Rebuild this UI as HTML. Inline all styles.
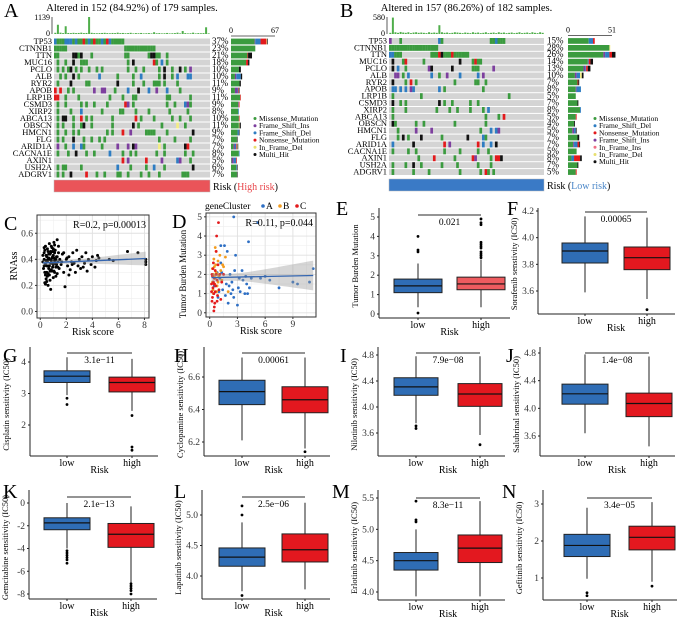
<!DOCTYPE html>
<html><head><meta charset="utf-8"><style>
html,body{margin:0;padding:0;background:#fff;}
svg{display:block;font-family:"Liberation Serif",serif;}
</style></head><body>
<svg id="fig" width="678" height="619" viewBox="0 0 678 619" xmlns="http://www.w3.org/2000/svg"></svg>
<script>
// ===== Oncoprint data =====
const genes=["TP53","CTNNB1","TTN","MUC16","PCLO","ALB","RYR2","APOB","LRP1B","CSMD3","XIRP2","ABCA13","OBSCN","HMCN1","FLG","ARID1A","CACNA1E","AXIN1","USH2A","ADGRV1"];
const pctA=["37%","23%","21%","18%","10%","10%","11%","9%","11%","9%","8%","10%","11%","9%","7%","7%","8%","5%","6%","7%"];
const pctB=["15%","28%","26%","14%","13%","10%","7%","8%","5%","7%","8%","5%","4%","5%","7%","7%","5%","8%","7%","5%"];
const rowsA=[
"dmmmdddmdmmnmdmnmmdmndmmmmm",
"mmmmm......................mmmmmmmmmmmm",
"mm.....kkmk...m............mm.......mkkmm..m",
".m..m..k..mmm...............m.k.......nm.d.m",
".m.m.mk.m.m..m..m.m.........m..m..m.....m.k..m..k.m.s",
"..m.m..k.m.......d......m.....m..d......m.k..m.d...dd",
".m....k.....mm..........k.....m...m...mmm.m....m",
"n.n..m.m.......s..ss...m....d...k...d..s...d....m",
"nn..m....m...........m....m...mm...........mm.......m",
".m..m.....m.m..m....m......ns.m............m..m...dsm",
".m....m...d.......m......mm....m....m.......m......m",
".m.kk..m..n.m.m.......m........n.m....m......m..m...m",
".m.m...m..mk..m.......m.......k.m........m.....i..m..",
".m..m..m.m..........m.m...n..s.....mmmm....m.........k",
".m.m...k...m..m..m.m....................m.....m.....m",
".s..m..d..dm......m.....s...s.ks........i.m.......kn",
".m...m..k...m..m.....d....m..m.m.......m..m.......m..m",
"..........................n.s......n.....s.....ds...m",
".m.mm.....m.............d....m.....m..d...m..........k",
".m.m..k.....n...m..m....mm..m....m..m...m........mmm"];
const rowsB=[
"s...m..............dm..................mmdmmm",
"mmmmmmmmmmmmmmmmmmm",
"ddmmm...........mmmnkmmmnmmmmmm",
".k...mn......m.............k....mnmm",
".k.d..m........sk.......k.......mmm.....s",
"..ss.m.d........d..m..s....d......d.s",
".k....m.n.m..............m.......mm..m",
".dd.d.d.sd.........d.m..............m",
".m..........m.................................m",
".k..m.m............k.m..m......m..m",
".m....m...........m....m..m....m....m.d",
".m...................................m....m.n",
".km.......m..m...........m...........m",
"...m......s.....s..................m...d.ds",
"...m.k.m....k.......m.........k.....dm",
".d.......k...........n.s..........n.d..d.k",
".m.....m..m..........m.....m......m...m",
"...........m.....n.......m......ns.....m.nnk",
".m....m..k..m.......m.....m.......m....m",
".m.......m.....m...........m.......m.nm.m"];
const topA=[80,620,90,60,520,70,60,80,60,70,90,60,70,1139,80,60,50,60,70,80,60,50,70,60,90,60,70,50,60,80,40,60,50,70,40,50,60,40,120,50,60,40,50,70,40,50,60,90,40,200,60,40,50,90,40,60,50,60,450,40];
const topB=[40,560,60,40,70,50,40,60,30,50,60,40,50,40,30,60,40,50,40,300,60,40,50,30,40,60,50,40,30,50,40,30,60,40,50,30,40,60,30,40,50,30,60,40,50,30,40,50,30,40,60,30,40,50,30,60,40,30,60,40];
const typeColors={m:"#3b9b3f",s:"#7d3f9e",d:"#2e7dc2",n:"#e31a1c",i:"#f3ec86",k:"#111111",p:"#f06e86"};
const barsA=[[36,1,8,9,1,1],[37,0,0,0,0,0],[25,0,0,1,0,6],[23,0,0,3,0,2],[12,0,0,0,0,3],[6,2,7,0,0,2],[13,0,0,0,0,2],[6,4,1,1,0,1],[14,0,0,1,0,0],[11,1,0,1,0,0],[11,0,1,0,0,0],[12,0,0,1,0,0],[12,0,0,0,1,2],[10,0,2,0,0,1],[9,0,0,0,0,1],[4,2,2,1,1,1],[12,0,1,0,0,0],[1,3,4,1,0,0],[8,0,1,0,0,1],[9,0,0,0,0,1]];
const barsB=[[24,0,5,2,0,0,0],[48,0,0,0,0,1,0],[41,2,5,3,0,0,4],[23,0,1,2,0,0,3],[18,2,1,2,0,0,3],[8,2,4,0,0,2,2],[11,0,0,1,0,0,1],[9,1,5,0,0,0,0],[9,0,0,0,0,0,0],[11,0,0,0,0,0,1],[14,0,1,0,0,0,0],[9,0,0,1,0,0,0],[7,0,0,0,0,0,1],[5,2,2,0,0,0,1],[11,0,0,0,0,0,2],[6,1,4,2,0,0,1],[10,0,0,0,0,0,0],[4,0,3,7,0,0,2],[11,0,0,0,0,0,1],[9,0,0,1,0,0,0]];
// ===== Scatter C data =====
const cRisk=[0.2,0.3,0.35,0.4,0.45,0.5,0.5,0.55,0.6,0.6,0.65,0.7,0.7,0.75,0.8,0.8,0.85,0.9,0.9,0.95,1.0,1.0,1.05,1.1,1.1,1.15,1.2,1.25,1.3,1.3,1.35,1.4,1.45,1.5,0.25,0.3,0.35,0.4,0.45,0.5,0.55,0.6,0.65,0.7,0.75,0.8,0.85,0.9,0.95,1.0,1.05,1.1,1.2,1.25,1.4,0.2,0.3,0.4,0.6,0.7,0.9,1.0,1.15,1.3,0.35,0.55,0.45,0.65,0.85,1.05,1.2,0.3,0.5,0.75,0.95,1.35,0.4,0.6,0.8,1.1,1.6,1.7,1.8,1.9,2.0,2.1,2.2,2.3,2.4,2.5,2.6,2.7,2.8,3.0,3.1,3.2,3.4,3.5,3.7,3.9,4.0,4.2,4.3,4.5,5.3,5.6,6.7,7.5,8.1,8.1,8.1,1.8,2.2,2.9,3.6,1.65,2.05,2.45,3.3,4.4];
const cRNAss=[0.38,0.45,0.3,0.5,0.25,0.42,0.35,0.48,0.2,0.4,0.33,0.52,0.28,0.44,0.37,0.17,0.5,0.31,0.41,0.46,0.36,0.26,0.53,0.39,0.3,0.47,0.34,0.42,0.55,0.29,0.38,0.45,0.33,0.4,0.33,0.4,0.47,0.36,0.43,0.3,0.38,0.46,0.41,0.35,0.24,0.45,0.39,0.49,0.34,0.43,0.31,0.45,0.4,0.36,0.5,0.43,0.35,0.28,0.35,0.4,0.37,0.48,0.37,0.42,0.22,0.27,0.39,0.44,0.32,0.41,0.27,0.49,0.23,0.31,0.42,0.34,0.21,0.29,0.46,0.51,0.36,0.44,0.3,0.19,0.4,0.35,0.42,0.32,0.38,0.45,0.37,0.3,0.47,0.4,0.33,0.42,0.37,0.45,0.4,0.36,0.42,0.34,0.39,0.41,0.4,0.39,0.46,0.45,0.4,0.38,0.36,0.45,0.28,0.35,0.31,0.38,0.41,0.36,0.34,0.43];
// ===== Scatter D data =====
const dRisk=[1.2,1.6,1.9,2.2,2.5,2.8,3.0,3.2,3.5,3.8,4.0,4.2,4.3,4.5,5.2,2.6,5.5,6.0,6.5,7.5,9.0,9.5,10.8,11.2,1.0,1.8,2.0,2.4,2.7,3.3,1.3,1.7,2.1,3.6,4.1,0.5,0.8,1.1,1.4,2.3,2.6,3.1,3.9,0.9,1.2,
0.3,0.4,0.5,0.6,0.7,0.8,0.9,1.0,1.1,1.2,0.35,0.45,0.55,0.65,0.75,0.85,1.3,1.5,1.7,2.0,0.4,0.6,0.9,1.4,0.3,0.5,0.7,
0.2,0.25,0.3,0.35,0.4,0.45,0.5,0.55,0.6,0.65,0.7,0.75,0.8,0.85,0.9,0.95,1.0,1.1,1.2,0.3,0.4,0.5,0.6,0.7,0.8,0.2,0.35,0.5,0.45,1.3,1.5,0.25];
const dTMB=[3.5,3.5,3.2,2.0,1.2,3.0,0.4,1.8,2.2,1.0,1.5,3.7,1.3,1.8,4.7,5.0,1.8,1.9,1.7,1.3,1.6,1.5,1.6,2.3,1.1,1.5,0.5,1.6,2.2,1.1,2.1,0.9,1.4,1.7,1.0,1.4,2.1,1.8,1.2,1.0,0.8,1.3,1.9,0.8,2.6,
1.6,2.0,2.4,1.8,3.2,1.4,2.7,1.9,3.0,2.2,1.2,2.8,1.5,2.5,1.1,2.0,1.7,2.4,2.9,1.1,1.0,3.4,1.6,2.5,2.3,1.9,2.1,
1.5,2.0,0.8,1.3,2.6,1.0,1.8,0.5,2.2,1.4,3.2,4.0,1.7,0.9,2.5,4.7,1.2,2.0,0.7,1.9,1.6,0.3,1.1,2.0,0.6,1.1,2.3,1.5,0.1,1.6,2.0,0.6];
const dCluster=("A".repeat(45)+"B".repeat(27)+"C".repeat(32)).split("");
// ===== Boxplot data: [lowerWhisker, q1, median, q3, upperWhisker] =====
const E_low=[0.35,1.1,1.45,1.8,2.6], E_high=[0.35,1.25,1.55,1.9,2.8];
const E_lowOut=[0.05,3.2,3.3,4.0], E_highOut=[2.9,3.0,3.1,3.2,3.4,3.5,3.6,3.7,4.6,4.7,4.9];
const F_low=[3.59,3.81,3.90,3.96,4.16], F_high=[3.54,3.76,3.85,3.93,4.15];
const F_lowOut=[], F_highOut=[3.46];
const G_low=[2.95,3.35,3.55,3.72,4.15], G_high=[2.45,3.05,3.35,3.52,4.1];
const G_lowOut=[2.85,2.65], G_highOut=[2.3,1.3,1.2];
const H_low=[6.21,6.43,6.51,6.58,6.72], H_high=[6.16,6.38,6.46,6.54,6.72];
const H_lowOut=[], H_highOut=[6.14];
const I_low=[3.75,4.18,4.31,4.45,4.78], I_high=[3.57,4.01,4.2,4.36,4.78];
const I_lowOut=[3.67,3.71], I_highOut=[3.42];
const J_low=[3.64,4.06,4.21,4.35,4.78], J_high=[3.45,3.88,4.07,4.22,4.75];
const J_lowOut=[], J_highOut=[];
const K_low=[-4.0,-2.35,-1.75,-1.3,0.0], K_high=[-7.0,-3.9,-2.75,-1.8,-0.3];
const K_lowOut=[-4.2,-4.4,-4.6,-4.8,-5.0,-5.3], K_highOut=[-7.1,-7.3,-7.5,-7.7,-8.0];
const L_low=[3.75,4.16,4.31,4.46,4.88], L_high=[3.78,4.23,4.43,4.69,5.2];
const L_lowOut=[5.0,5.15,3.68], L_highOut=[];
const M_low=[3.93,4.35,4.5,4.63,5.0], M_high=[3.93,4.47,4.7,4.91,5.45];
const M_lowOut=[5.12,5.15,5.45], M_highOut=[];
const N_low=[0.98,1.58,1.88,2.18,2.9], N_high=[0.9,1.76,2.1,2.4,3.05];
const N_lowOut=[0.6,0.52], N_highOut=[0.78];

const NS="http://www.w3.org/2000/svg";
const svg=document.getElementById("fig");
function el(tag,attrs,parent,txt){const e=document.createElementNS(NS,tag);for(const k in attrs)e.setAttribute(k,attrs[k]);if(txt!==undefined)e.textContent=txt;(parent||svg).appendChild(e);return e;}
function grp(name){const g=el("g",{});


return g;}
function letter(t,x,y){const e=el("text",{x:x,y:y,"font-size":20},svg,t);

}

// ===== Oncoprint =====
function onco(o){
  const g=grp(o.name);
  const t=el("text",{x:(o.gx0+o.gx1)/2,y:11,"font-size":10.5,"text-anchor":"middle"},g,o.title);
  
  
  const cols=60,cw=(o.gx1-o.gx0)/cols;
  el("line",{x1:o.gx0-2,x2:o.gx0-2,y1:o.ty0,y2:o.ty1,stroke:"#333","stroke-width":0.8},g);
  el("text",{x:o.gx0-4,y:o.ty0+3,"font-size":8,"text-anchor":"end"},g,o.topMax);
  el("text",{x:o.gx0-4,y:o.ty1+2,"font-size":8,"text-anchor":"end"},g,"0");
  o.top.forEach((v,i)=>{const h=v/o.topMaxV*(o.ty1-o.ty0);
    const b=el("rect",{x:o.gx0+i*cw+0.3,y:o.ty1-h,width:cw-0.6,height:h,fill:"#4fae4a"},g);
    
    });
  genes.forEach((gn,r)=>{
    const y=o.gy0+r*o.rh;
    el("text",{x:o.gx0-2,y:y+o.rh-1,"font-size":8.5,"text-anchor":"end"},g,gn);
    el("rect",{x:o.gx0,y:y+0.5,width:o.gx1-o.gx0,height:o.rh-1,fill:"#d4d4d4"},g);
    const row=o.rows[r].padEnd(cols,".");
    for(let c=0;c<cols;c++){const ch=row[c];if(ch==="."||!typeColors[ch])continue;
      const cell=el("rect",{x:o.gx0+c*cw,y:y+0.5,width:cw+0.1,height:o.rh-1,fill:typeColors[ch]},g);
      
      }
    el("text",{x:o.px,y:y+o.rh-1,"font-size":9},g,o.pct[r]);
    let x=o.bx0;o.bars[r].forEach((n,k)=>{if(!n)return;const w=n/o.bmax*(o.bx1-o.bx0);
      const s=el("rect",{x:x,y:y+0.6,width:w,height:o.rh-1.2,fill:o.barColors[k]},g);
      
      x+=w;});
  });
  el("line",{x1:o.bx0,x2:o.bx1,y1:o.gy0-2,y2:o.gy0-2,stroke:"#333","stroke-width":0.8},g);
  el("text",{x:o.bx0,y:o.gy0-5,"font-size":8,"text-anchor":"middle"},g,"0");
  el("text",{x:o.bx1,y:o.gy0-5,"font-size":8,"text-anchor":"middle"},g,o.bmaxLabel);
  const rb=el("rect",{x:o.gx0,y:o.ry,width:o.gx1-o.gx0,height:12,fill:o.riskColor,stroke:"#bbb","stroke-width":0.5},g);
  
  
  const rt=el("text",{x:o.gx1+3,y:o.ry+10,"font-size":10},g);
  el("tspan",{},rt,"Risk (");el("tspan",{fill:o.riskText},rt,o.riskLabel);el("tspan",{},rt,")");
  o.legend.forEach((l,i)=>{const lg=el("g",{},g);
    
    
    el("circle",{cx:o.lx,cy:o.ly+i*7.2-2.5,r:1.5,fill:l[1]},lg);
    el("text",{x:o.lx+4,y:o.ly+i*7.2,"font-size":7.5},lg,l[0]);});
}
onco({name:"oncoprint-high-risk",title:"Altered in 152 (84.92%) of 179 samples.",gx0:54,gx1:210,gy0:38,rh:7,ty0:17,ty1:34,top:topA,topMax:"1139",topMaxV:1139,rows:rowsA,pct:pctA,px:212,bars:barsA,bx0:231,bx1:275,bmax:67,bmaxLabel:"67",
 barColors:["#3b9b3f","#7d3f9e","#2e7dc2","#e31a1c","#f3ec86","#111"],ry:180,riskColor:"#ea5459",riskText:"#e8474c",riskLabel:"High risk",
 lx:255,ly:121,legend:[["Missense_Mutation","#3b9b3f"],["Frame_Shift_Ins","#7d3f9e"],["Frame_Shift_Del","#2e7dc2"],["Nonsense_Mutation","#e31a1c"],["In_Frame_Del","#e8e070"],["Multi_Hit","#111"]]});
onco({name:"oncoprint-low-risk",title:"Altered in 157 (86.26%) of 182 samples.",gx0:389,gx1:544,gy0:37.5,rh:6.9,ty0:17,ty1:34,top:topB,topMax:"580",topMaxV:580,rows:rowsB,pct:pctB,px:547,bars:barsB,bx0:568,bx1:612,bmax:51,bmaxLabel:"51",
 barColors:["#3b9b3f","#7d3f9e","#2e7dc2","#e31a1c","#f06e86","#f3ec86","#111"],ry:179,riskColor:"#3a7ac6",riskText:"#4a86c8",riskLabel:"Low risk",
 lx:595,ly:121,legend:[["Missense_Mutation","#3b9b3f"],["Frame_Shift_Del","#2e7dc2"],["Nonsense_Mutation","#e31a1c"],["Frame_Shift_Ins","#7d3f9e"],["In_Frame_Ins","#f06e86"],["In_Frame_Del","#e8e070"],["Multi_Hit","#111"]]});
letter("A",4,17);letter("B",340,17);

// ===== Scatter plots =====
function scatter(o){
  const g=grp(o.name);
  const X=v=>o.x0+(v-o.xd0)/(o.xd1-o.xd0)*(o.x1-o.x0);
  const Y=v=>o.y1-(v-o.yd0)/(o.yd1-o.yd0)*(o.y1-o.y0);
  el("rect",{x:o.x0,y:o.y0,width:o.x1-o.x0,height:o.y1-o.y0,fill:"#fff"},g);
  o.xminor.forEach(v=>el("line",{x1:X(v),x2:X(v),y1:o.y0,y2:o.y1,stroke:"#eee","stroke-width":0.6},g));
  o.yminor.forEach(v=>el("line",{x1:o.x0,x2:o.x1,y1:Y(v),y2:Y(v),stroke:"#eee","stroke-width":0.6},g));
  o.xticks.forEach(v=>{el("line",{x1:X(v),x2:X(v),y1:o.y0,y2:o.y1,stroke:"#e0e0e0","stroke-width":0.9},g);
    el("line",{x1:X(v),x2:X(v),y1:o.y1,y2:o.y1+2,stroke:"#333"},g);
    el("text",{x:X(v),y:o.y1+10,"font-size":9.5,"text-anchor":"middle",fill:"#333"},g,String(v));});
  o.yticks.forEach(v=>{el("line",{x1:o.x0,x2:o.x1,y1:Y(v),y2:Y(v),stroke:"#e0e0e0","stroke-width":0.9},g);
    el("line",{x1:o.x0-2,x2:o.x0,y1:Y(v),y2:Y(v),stroke:"#333"},g);
    el("text",{x:o.x0-4,y:Y(v)+3,"font-size":9.5,"text-anchor":"end",fill:"#333"},g,o.yfmt(v));});
  const n=o.xs.length;let mx=0,my=0;for(let i=0;i<n;i++){mx+=o.xs[i];my+=o.ys[i];}mx/=n;my/=n;
  let sxx=0,sxy=0,sse=0;for(let i=0;i<n;i++){sxx+=(o.xs[i]-mx)**2;sxy+=(o.xs[i]-mx)*(o.ys[i]-my);}
  const b=sxy/sxx,a=my-b*mx;for(let i=0;i<n;i++)sse+=(o.ys[i]-a-b*o.xs[i])**2;
  const se=Math.sqrt(sse/(n-2));
  const xmin=Math.min(...o.xs),xmax=Math.max(...o.xs);const up=[],dn=[];
  for(let k=0;k<=20;k++){const xv=xmin+(xmax-xmin)*k/20;const w=1.97*se*Math.sqrt(1/n+(xv-mx)**2/sxx);
    up.push(X(xv)+","+Y(a+b*xv+w));dn.unshift(X(xv)+","+Y(a+b*xv-w));}
  o.xs.forEach((v,i)=>{const c=el("circle",{cx:X(v),cy:Y(o.ys[i]),r:o.r,fill:o.color(i)},g);
    
    });
  const band=el("polygon",{points:up.concat(dn).join(" "),fill:"#999","fill-opacity":0.4},g);
  
  
  const ln=el("line",{x1:X(xmin),y1:Y(a+b*xmin),x2:X(xmax),y2:Y(a+b*xmax),stroke:"#3566b0","stroke-width":1.3},g);
  
  
  el("rect",{x:o.x0,y:o.y0,width:o.x1-o.x0,height:o.y1-o.y0,fill:"none",stroke:"#333","stroke-width":1},g);
  el("text",{x:o.x1-3,y:o.y0+13,"font-size":10,"text-anchor":"end"},g,o.stat);
  el("text",{x:(o.x0+o.x1)/2,y:o.y1+17,"font-size":10,"text-anchor":"middle"},g,"Risk score");
  const yl=el("text",{x:0,y:0,"font-size":o.ylfs,"text-anchor":"middle",transform:`translate(${o.x0-20},${o.ylc}) rotate(-90)`},g,o.ylab);
  
  
}
scatter({name:"scatter-rnass",x0:37,x1:149,y0:215,y1:318,xd0:-0.25,xd1:8.35,yd0:-0.05,yd1:0.74,xs:cRisk,ys:cRNAss,r:1.5,color:()=>"#000",
 xticks:[0,2,4,6,8],xminor:[1,3,5,7],yticks:[0,0.2,0.4,0.6],yminor:[0.1,0.3,0.5,0.7],yfmt:v=>v.toFixed(1),stat:"R=0.2, p=0.00013",ylab:"RNAss",ylfs:10,ylc:266});
const clColors={A:"#2e6fc4",B:"#f39c1f",C:"#e31a1c"};
scatter({name:"scatter-tmb",x0:206,x1:316,y0:213,y1:317,xd0:-0.4,xd1:11.5,yd0:-0.22,yd1:5.2,xs:dRisk,ys:dTMB,r:1.4,color:i=>clColors[dCluster[i]],
 xticks:[0,3,6,9],xminor:[1.5,4.5,7.5,10.5],yticks:[0,1,2,3,4,5],yminor:[0.5,1.5,2.5,3.5,4.5],yfmt:v=>String(v),stat:"R=0.11, p=0.044",ylab:"Tumor Burden Mutation",ylfs:9,ylc:274});
(function(){const g=grp("legend-genecluster");
 el("text",{x:205,y:209,"font-size":9.5},g,"geneCluster");
 [["A",263],["B",280],["C",297]].forEach(p=>{const e=el("g",{},g);
  
  
  el("circle",{cx:p[1],cy:206,r:1.8,fill:clColors[p[0]]},e);el("text",{x:p[1]+3,y:209,"font-size":9.5},e,p[0]);});})();
letter("C",4,230);letter("D",172,228);

// ===== Box plots =====
function boxplot(o){
  const g=grp(o.name);
  const Y=v=>o.m[0][1]+(v-o.m[0][0])/(o.m[1][0]-o.m[0][0])*(o.m[1][1]-o.m[0][1]);
  el("line",{x1:o.x0,x2:o.x0,y1:o.yTop,y2:o.yBot,stroke:"#222","stroke-width":1},g);
  el("line",{x1:o.x0,x2:o.x1,y1:o.yBot,y2:o.yBot,stroke:"#222","stroke-width":1},g);
  o.ticks.forEach(v=>{el("line",{x1:o.x0-2,x2:o.x0,y1:Y(v),y2:Y(v),stroke:"#222"},g);
    el("text",{x:o.x0-4,y:Y(v)+3,"font-size":9.5,"text-anchor":"end",fill:"#333"},g,o.fmt(v));});
  [[o.low,o.lowOut,o.cL,o.cLow,"low"],[o.high,o.highOut,o.cH,o.cHigh,"high"]].forEach(([s,out,c,col,lab])=>{
    const bg=el("g",{},g);
    
    
    el("line",{x1:c,x2:c,y1:Y(s[0]),y2:Y(s[4]),stroke:"#222","stroke-width":1},bg);
    el("rect",{x:c-o.hw,y:Y(s[3]),width:2*o.hw,height:Y(s[1])-Y(s[3]),fill:col,stroke:"#222","stroke-width":1},bg);
    el("line",{x1:c-o.hw,x2:c+o.hw,y1:Y(s[2]),y2:Y(s[2]),stroke:"#111","stroke-width":1.2},bg);
    out.forEach(v=>{const p=el("circle",{cx:c,cy:Y(v),r:1.4,fill:"#000"},bg);
      
      });
    el("line",{x1:c,x2:c,y1:o.yBot,y2:o.yBot+2,stroke:"#222"},g);
    el("text",{x:c,y:o.yBot+10,"font-size":10,"text-anchor":"middle"},g,lab);
  });
  el("line",{x1:o.cL,x2:o.cH,y1:o.sigY,y2:o.sigY,stroke:"#555","stroke-width":1.2},g);
  el("text",{x:(o.cL+o.cH)/2,y:o.sigY+10,"font-size":9.5,"text-anchor":"middle"},g,o.sig);
  el("text",{x:(o.cL+o.cH)/2,y:o.yBot+17,"font-size":10,"text-anchor":"middle"},g,"Risk");
  const yl=el("text",{x:0,y:0,"font-size":8.5,"text-anchor":"middle",transform:`translate(${o.x0-21},${(o.yTop+o.yBot)/2+3}) rotate(-90)`},g,o.ylab);
  
  
}
const BL="#2f6db5",RD="#e3181f";
const f1=v=>v.toFixed(1),f0=v=>String(v);
boxplot({name:"boxplot-tmb",x0:379,x1:510,yTop:208,yBot:318,m:[[0,314],[5,217]],ticks:[0,1,2,3,4,5],fmt:f0,cL:418,cH:481,hw:24,sigY:215,sig:"0.021",ylab:"Tumor Burden Mutation",low:E_low,high:E_high,lowOut:E_lowOut,highOut:E_highOut,cLow:BL,cHigh:"#ee5b5f"});
boxplot({name:"boxplot-sorafenib",x0:538,x1:675,yTop:208,yBot:314,m:[[3.6,291],[4.2,211]],ticks:[3.6,3.8,4.0,4.2],fmt:f1,cL:585,cH:647,hw:23,sigY:212,sig:"0.00065",ylab:"Sorafenib senstivity (IC50)",low:F_low,high:F_high,lowOut:F_lowOut,highOut:F_highOut,cLow:BL,cHigh:RD});
boxplot({name:"boxplot-cisplatin",x0:30,x1:158,yTop:347,yBot:456,m:[[2,425],[4,362]],ticks:[2,3,4],fmt:f0,cL:67,cH:132,hw:23,sigY:353,sig:"3.1e\u221211",ylab:"Cisplatin sensitivity (IC50)",low:G_low,high:G_high,lowOut:G_lowOut,highOut:G_highOut,cLow:BL,cHigh:RD});
boxplot({name:"boxplot-cyclopamine",x0:204,x1:330,yTop:347,yBot:456,m:[[6.2,442],[6.6,377]],ticks:[6.2,6.4,6.6],fmt:f1,cL:242,cH:305,hw:23,sigY:353,sig:"0.00061",ylab:"Cyclopamine sensitivity (IC50)",low:H_low,high:H_high,lowOut:H_lowOut,highOut:H_highOut,cLow:BL,cHigh:RD});
boxplot({name:"boxplot-nilotinib",x0:378,x1:505,yTop:347,yBot:456,m:[[3.6,433],[4.8,355]],ticks:[3.6,4.0,4.4,4.8],fmt:f1,cL:416,cH:480,hw:22,sigY:353,sig:"7.9e\u221208",ylab:"Nilotinib sensitivity (IC50)",low:I_low,high:I_high,lowOut:I_lowOut,highOut:I_highOut,cLow:BL,cHigh:RD});
boxplot({name:"boxplot-salubrinal",x0:540,x1:675,yTop:347,yBot:456,m:[[3.6,436],[4.8,353]],ticks:[3.6,4.0,4.4,4.8],fmt:f1,cL:585,cH:649,hw:23,sigY:353,sig:"1.4e\u221208",ylab:"Salubrinal sensitivity (IC50)",low:J_low,high:J_high,lowOut:J_lowOut,highOut:J_highOut,cLow:BL,cHigh:RD});
boxplot({name:"boxplot-gemcitabine",x0:29,x1:157,yTop:490,yBot:599,m:[[0,503],[-8,594]],ticks:[-8,-6,-4,-2,0],fmt:f0,cL:67,cH:131,hw:23,sigY:497,sig:"2.1e\u221213",ylab:"Gemcitabine sensitivity (IC50)",low:K_low,high:K_high,lowOut:K_lowOut,highOut:K_highOut,cLow:BL,cHigh:RD});
boxplot({name:"boxplot-lapatinib",x0:202,x1:330,yTop:490,yBot:599,m:[[4.0,576],[5.0,515]],ticks:[4.0,4.5,5.0],fmt:f1,cL:242,cH:305,hw:23,sigY:497,sig:"2.5e\u221206",ylab:"Lapatinib sensitivity (IC50)",low:L_low,high:L_high,lowOut:L_lowOut,highOut:L_highOut,cLow:BL,cHigh:RD});
boxplot({name:"boxplot-erlotinib",x0:378,x1:505,yTop:490,yBot:600,m:[[4.0,592],[5.5,498]],ticks:[4.0,4.5,5.0,5.5],fmt:f1,cL:416,cH:480,hw:22,sigY:498,sig:"8.3e\u221211",ylab:"Erlotinib sensitivity (IC50)",low:M_low,high:M_high,lowOut:M_lowOut,highOut:M_highOut,cLow:BL,cHigh:RD});
boxplot({name:"boxplot-gefitinib",x0:543,x1:677,yTop:490,yBot:600,m:[[1,578],[3,504]],ticks:[1,2,3],fmt:f0,cL:587,cH:652,hw:23,sigY:498,sig:"3.4e\u221205",ylab:"Gefitinib sensitivity (IC50)",low:N_low,high:N_high,lowOut:N_lowOut,highOut:N_highOut,cLow:BL,cHigh:RD});
letter("E",336,215);letter("F",507,215);letter("G",3,362);letter("H",174,362);letter("I",340,362);letter("J",506,362);
letter("K",3,498);letter("L",174,498);letter("M",332,498);letter("N",502,498);
</script>
</body></html>
